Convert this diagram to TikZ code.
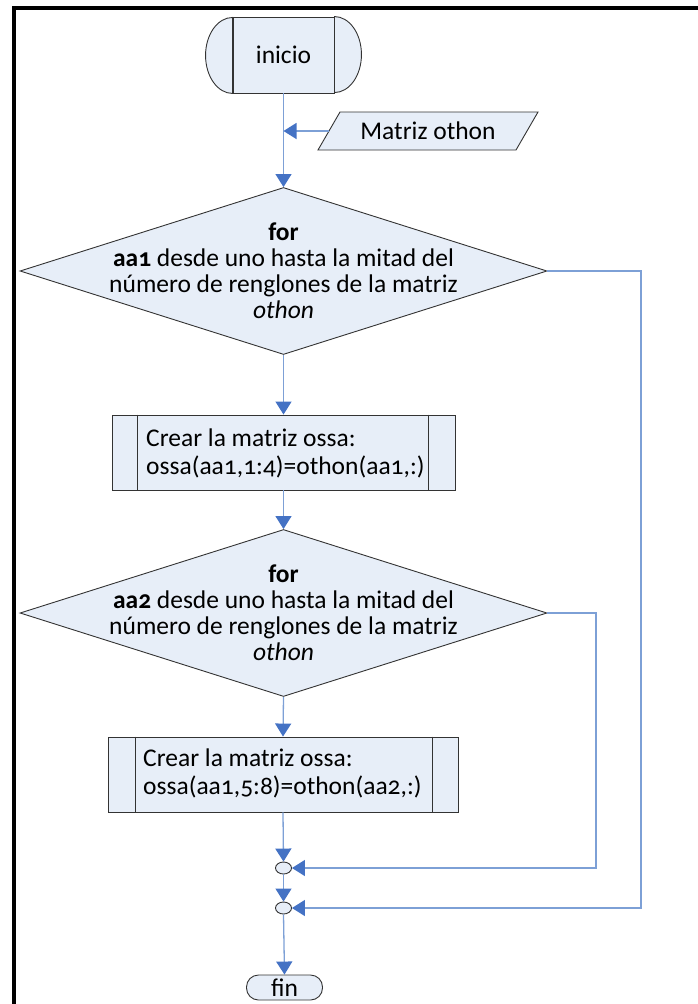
\documentclass[tikz,border=0pt]{standalone}
\usepackage{fontspec}
\setmainfont{Carlito}[Numbers=OldStyle]
\usetikzlibrary{arrows.meta,shapes.geometric}
\definecolor{fillb}{RGB}{231,238,248}
\definecolor{linkc}{RGB}{125,160,214}
\definecolor{headc}{RGB}{68,114,196}
\begin{document}
\begin{tikzpicture}[x=1pt,y=-1pt,
  shp/.style={draw=black!80, fill=fillb, line width=0.9pt},
  link/.style={draw=linkc, line width=1.3pt, -{Triangle[length=13pt,width=16pt,color=headc]}},
  txt/.style={font=\fontsize{25.5}{26}\selectfont, inner sep=0pt},
  boxtxt/.style={font=\fontsize{25.5}{28}\selectfont, inner sep=0pt},
  every node/.style={font=\fontsize{25.5}{26}\selectfont}]
\useasboundingbox (0,0) rectangle (697,1004);
\draw[line width=4pt, line join=miter] (14,1006) -- (14,8) -- (699,8);

% inicio terminal
\node[shp, minimum width=101pt, minimum height=76pt, inner sep=0pt] (inicio) at (283.5,55) {inicio};
\path[shp] (inicio.north east) arc[start angle=90, end angle=-90, x radius=27pt, y radius=38pt] -- cycle;
\path[shp] (inicio.south west) arc[start angle=270, end angle=90, x radius=27pt, y radius=38pt] -- cycle;

% input
\path[shp] (318,150) -- (340,112) -- (538,112) -- (516,150) -- cycle;
\node[txt] (inp) at (428,131) {Matriz othon};
\coordinate (inpL) at (329,131);
\coordinate (j0) at (283.5,131);

% diamond 1
\node[shp, diamond, minimum width=527pt, minimum height=167pt, inner sep=0pt] (d1) at (283.5,271) {};
\node[txt, align=center] (d1t) at (d1.center) {\textbf{for}\\\textbf{aa1} desde uno hasta la mitad del\\número de renglones de la matriz\\\textit{othon}};

% box 1
\node[shp, minimum width=343pt, minimum height=75pt, inner sep=0pt] (b1) at (283.5,452.5) {};
\draw[draw=black!80, line width=0.9pt] ([xshift=26pt]b1.north west) -- ([xshift=26pt]b1.south west);
\draw[draw=black!80, line width=0.9pt] ([xshift=-27pt]b1.north east) -- ([xshift=-27pt]b1.south east);
\node[boxtxt, align=left, anchor=west] (b1t) at (146,453) {Crear la matriz ossa:\\ossa(aa1,1:4)=othon(aa1,:)};

% diamond 2
\node[shp, diamond, minimum width=527pt, minimum height=167pt, inner sep=0pt] (d2) at (283.5,613) {};
\node[txt, align=center] (d2t) at (d2.center) {\textbf{for}\\\textbf{aa2} desde uno hasta la mitad del\\número de renglones de la matriz\\\textit{othon}};

% box 2
\node[shp, minimum width=350pt, minimum height=75pt, inner sep=0pt] (b2) at (283,774.5) {};
\draw[draw=black!80, line width=0.9pt] ([xshift=28pt]b2.north west) -- ([xshift=28pt]b2.south west);
\draw[draw=black!80, line width=0.9pt] ([xshift=-26pt]b2.north east) -- ([xshift=-26pt]b2.south east);
\node[boxtxt, align=left, anchor=west] (b2t) at (143,773) {Crear la matriz ossa:\\ossa(aa1,5:8)=othon(aa2,:)};

% connectors circles
\node[shp, ellipse, minimum width=16pt, minimum height=12pt, inner sep=0pt] (c1) at (283.5,868) {};
\node[shp, ellipse, minimum width=16pt, minimum height=12pt, inner sep=0pt] (c2) at (283.5,908) {};

% fin
\node[shp, rounded corners=12pt, minimum width=76pt, minimum height=25pt, inner sep=0pt] (fin) at (284.5,987.5) {fin};

\coordinate (r1) at (641,500);
\coordinate (r2) at (596,740);

\draw[link] (inicio.south) -- (d1.north);
\draw[link] (inpL) -- (j0);
\draw[link] (d1.south) -- (b1.north);
\draw[link] (b1.south) -- (d2.north);
\draw[link] (d2.south) -- (b2.north);
\draw[link] (b2.south) -- (c1.north);
\draw[link] (c1.south) -- (c2.north);
\draw[link] (c2.south) -- (fin.north);
\draw[link] (d1.east) -| (r1) |- (c2.east);
\draw[link] (d2.east) -| (r2) |- (c1.east);
\end{tikzpicture}
\end{document}
